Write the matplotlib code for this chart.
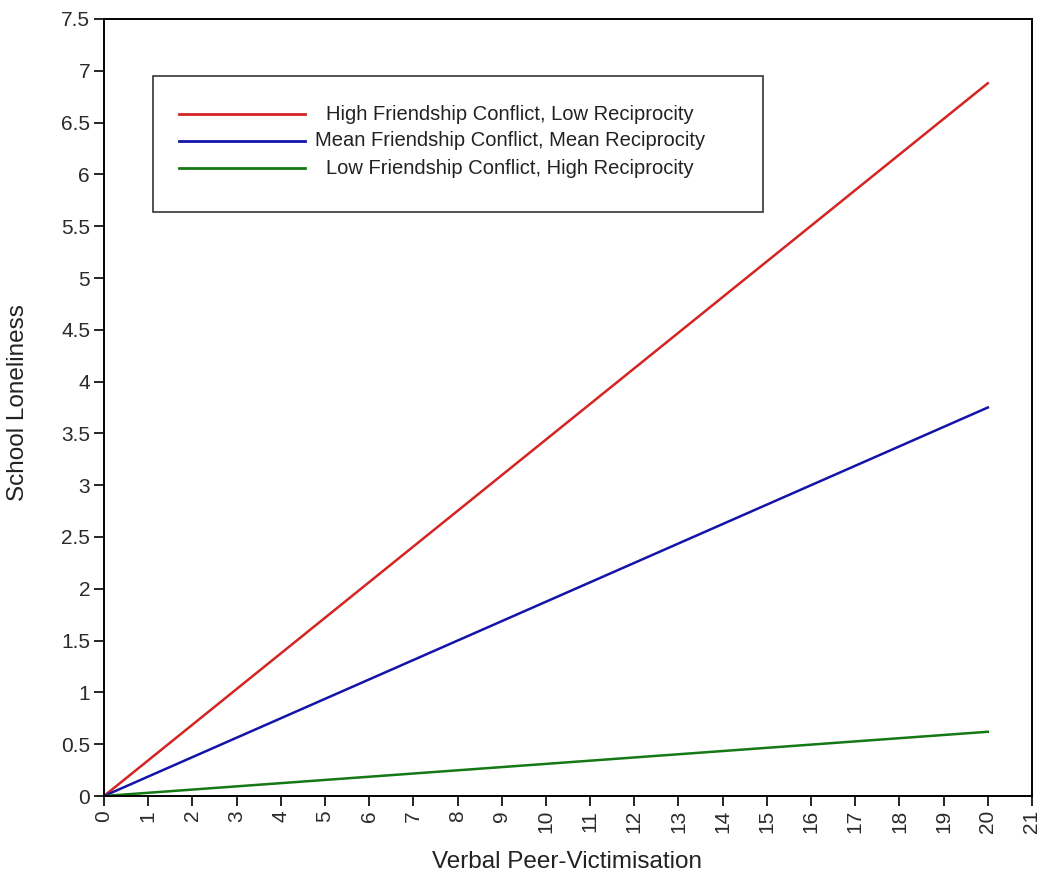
import numpy as np
import matplotlib.pyplot as plt
from matplotlib.patches import Rectangle
from matplotlib.ticker import FuncFormatter

plt.rcParams['font.family'] = ['Liberation Sans', 'DejaVu Sans']

# simple slopes: predicted loneliness at the ends of the victimisation range
victimisation = [0, 20]
high_conflict = [0, 6.88]
mean_conflict = [0, 3.75]
low_conflict = [0, 0.62]

labels = ['High Friendship Conflict, Low Reciprocity',
          'Mean Friendship Conflict, Mean Reciprocity',
          'Low Friendship Conflict, High Reciprocity']
colors = ['#d42424', '#1414a8', '#147814']

W, H = 1042, 874
fig = plt.figure(figsize=(W / 100, H / 100), dpi=100)
# plot area in pixels: x 104..1032, y 19..796
ax = fig.add_axes([104 / W, (H - 796) / H, 928 / W, 777 / H])

for ys, lab, c in zip([high_conflict, mean_conflict, low_conflict], labels, colors):
    ax.plot(victimisation, ys, color=c, lw=1.8, label=lab)

ax.set_xlim(0, 21)
ax.set_ylim(0, 7.5)
ax.set_xticks(np.arange(0, 22, 1))
ax.set_yticks(np.arange(0, 7.51, 0.5))
ax.yaxis.set_major_formatter(FuncFormatter(lambda v, p: '%g' % v))
ax.tick_params(axis='x', labelrotation=90, length=7, width=1.2, labelsize=15,
               pad=3, labelcolor='#2a2a2a')
ax.tick_params(axis='y', length=7, width=1.2, labelsize=15, pad=3,
               labelcolor='#2a2a2a')
for s in ax.spines.values():
    s.set_linewidth(1.4)
    s.set_color('black')

ax.set_xlabel('Verbal Peer-Victimisation', fontsize=17.5, color='#222222')
ax.set_ylabel('School Loneliness', fontsize=17.5, color='#222222')
ax.xaxis.set_label_coords(0.499, -(851 - 796) / 777)
ax.yaxis.set_label_coords(-(104 - 29) / 928, 0.5 + (408 - 403) / 777)

# legend box drawn in axes fractions
def fx(px):
    return (px - 104) / 928

def fy(py):
    return (796 - py) / 777

ax.add_patch(Rectangle((fx(153), fy(212)), fx(763) - fx(153), fy(76) - fy(212),
                       transform=ax.transAxes, fill=False, ec='#333333', lw=1.2,
                       zorder=5))
for i, (lab, c) in enumerate(zip(labels, colors)):
    yy = fy(114 + 27 * i)
    ax.plot([fx(179), fx(305)], [yy, yy], color=c, lw=2,
            transform=ax.transAxes, clip_on=False)
    ax.text(fx(510), yy, lab, transform=ax.transAxes, ha='center', va='center',
            fontsize=14.5, color='#222222')

fig.savefig('out.png', dpi=100)
